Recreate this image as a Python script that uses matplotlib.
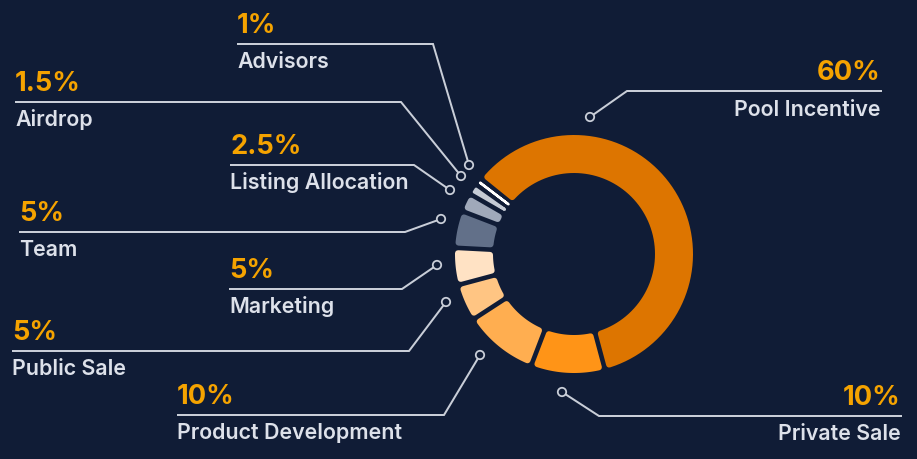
import numpy as np
import matplotlib
matplotlib.use("Agg")
import matplotlib.pyplot as plt
from matplotlib.patches import Polygon, Circle

# ---------------- data ----------------
categories = ["Pool Incentive", "Private Sale", "Product Development", "Public Sale",
              "Marketing", "Team", "Listing Allocation", "Airdrop", "Advisors"]
values = [60, 10, 10, 5, 5, 5, 2.5, 1.5, 1]
pct_labels = ["60%", "10%", "10%", "5%", "5%", "5%", "2.5%", "1.5%", "1%"]
colors = ["#DD7500", "#FF9417", "#FFAE50", "#FFC583", "#FFE2C4",
          "#627089", "#A0A9BA", "#C5CBD5", "#FFFFFF"]

BG = "#101C36"
LINE = "#C9CED8"
PCT = "#F5A300"
TXT = "#DDE1EA"

plt.rcParams['font.family'] = ['Inter', 'DejaVu Sans']

W, H = 917, 460
fig = plt.figure(figsize=(W / 100, H / 100), dpi=100)
fig.patch.set_facecolor(BG)
ax = fig.add_axes([0, 0, 1, 1])
ax.set_xlim(0, W)
ax.set_ylim(H, 0)
ax.set_facecolor(BG)
ax.axis('off')

cx, cy = 574, 255
R_out, R_in = 119, 81
gap = 4.6
start = 141.0

px2pt = 72 / 100.0


def seg_poly(t1, t2, rho):
    """t1 > t2 in degrees (clockwise segment). returns polygon in axes coords."""
    a1, a2 = np.radians(t1), np.radians(t2)
    mid = (a1 + a2) / 2
    d = gap / 2 + rho
    pts = []
    for r, rev in ((R_out - rho, False), (R_in + rho, True)):
        off = np.arcsin(min(d / r, 1.0))
        b1, b2 = a1 - off, a2 + off
        if b1 < b2:
            b1 = b2 = mid
        th = np.linspace(b1, b2, 80)
        if rev:
            th = th[::-1]
        pts += [(cx + r * np.cos(t), cy - r * np.sin(t)) for t in th]
    return np.array(pts)


total = float(sum(values))
angle = start
for v, c in zip(values, colors):
    span = 360.0 * v / total
    t1, t2 = angle, angle - span
    arc_in = R_in * np.radians(span)
    rho = 3.0
    if arc_in - gap < 2 * rho:
        rho = max(1.2, (arc_in - gap) / 2)
    poly = seg_poly(t1, t2, rho)
    ax.add_patch(Polygon(poly, closed=True, facecolor=c, edgecolor=c,
                         linewidth=2 * rho * px2pt, joinstyle='round', zorder=3))
    angle = t2

# ---------------- leader lines & labels ----------------
# (circle x, circle y, elbow x, line y, line end x, side)
layout = {
    "Pool Incentive":      (590, 118, 627, 92, 882, 'right'),
    "Private Sale":        (562, 393, 599, 417, 902, 'right'),
    "Product Development": (480, 356, 444, 416, 177, 'left'),
    "Public Sale":         (446, 303, 409, 352, 12, 'left'),
    "Marketing":           (437, 266, 402, 290, 229, 'left'),
    "Team":                (441, 220, 405, 233, 19, 'left'),
    "Listing Allocation":  (450, 191, 414, 166, 230, 'left'),
    "Airdrop":             (461, 177, 401, 103, 15, 'left'),
    "Advisors":            (469, 166, 433, 45, 237, 'left'),
}

for cat, pl in zip(categories, pct_labels):
    px, py, ex, ly, lx, side = layout[cat]
    ax.plot([px, ex, lx], [py, ly, ly], color=LINE, lw=2 * px2pt,
            solid_joinstyle='miter', solid_capstyle='butt', zorder=2)
    ax.add_patch(Circle((px, py), 4.2, facecolor=BG, edgecolor=LINE,
                        lw=1.8 * px2pt, zorder=4))
    if side == 'left':
        tx, ha = lx, 'left'
    else:
        tx, ha = lx - 1, 'right'
    ax.text(tx, ly - 12, pl, color=PCT, fontsize=19.6, fontweight='bold',
            ha=ha, va='baseline', zorder=5)
    ax.text(tx, ly + 23.5, cat, color=TXT, fontsize=15.4, fontweight='semibold',
            ha=ha, va='baseline', zorder=5)

fig.savefig("out.png", dpi=100, facecolor=BG)
